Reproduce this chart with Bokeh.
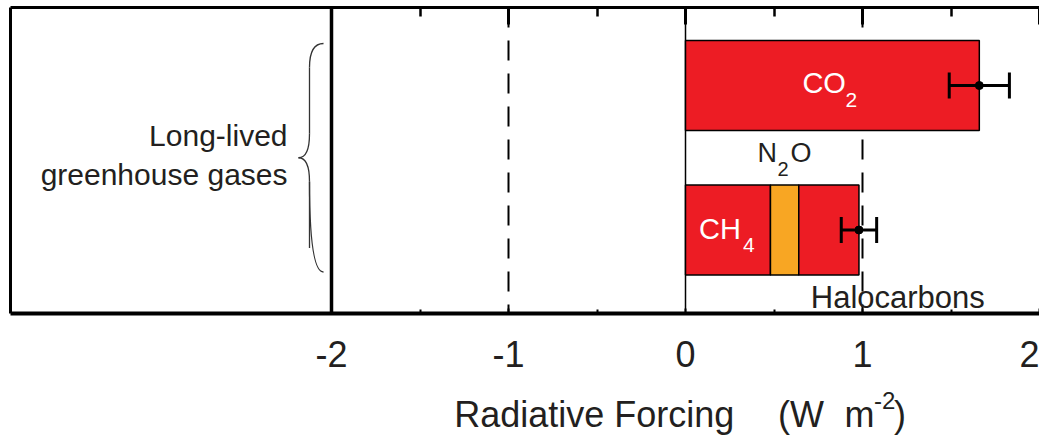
from bokeh.plotting import figure
from bokeh.layouts import column
from bokeh.models import Range1d, FixedTicker, LinearAxis, Span, Whisker, TeeHead, ColumnDataSource
from bokeh.core.properties import value
from bokeh.embed import file_html
from bokeh.resources import INLINE

# ---------------- data ----------------
rows = [2, 1]                       # CO2 row, CH4+N2O+Halocarbons row
co2 = 1.66
ch4 = 0.48
n2o = 0.16
halocarbons = 0.34
err_low = [1.49, 0.88]
err_high = [1.83, 1.08]
tick_values = [-2, -1, 0, 1, 2]
tick_labels = ["-2", "-1", "0", "1", "2"]
minor_values = [-1.5, -0.5, 0.5, 1.5]
group_label = "Long-lived\ngreenhouse gases"
title_parts = ["Radiative Forcing", "(W", "m", "-2", ")"]

# ---------------- layout ----------------
W = 1039
H_MAIN, H_TITLE = 385, 55
L_PX, R_PX, T_PX, B_PX = 10, 1039, 7, 313
XM2_PX = 331
x_end = 2.0
scale = (R_PX - XM2_PX) / (x_end + 2)
x_start = -2 - (XM2_PX - L_PX) / scale
y_start, y_end = 0.422, 2.54
yscale = (B_PX - T_PX) / (y_end - y_start)
bar_h = 90 / yscale

def xd(px):
    return x_start + (px - L_PX) / scale

def sh(fs):
    # baseline correction for text glyphs (pixels)
    return 0.4 * fs

FONT = "Liberation Sans"
TXT = "#231f20"
RED = "#ED1C24"
ORANGE = "#F8A623"

p = figure(width=W, height=H_MAIN, x_range=Range1d(x_start, x_end), y_range=Range1d(y_start, y_end),
           output_backend="svg", toolbar_location=None,
           min_border_left=L_PX, min_border_right=0, min_border_top=T_PX, min_border_bottom=H_MAIN - B_PX)
p.outline_line_color = None
p.grid.visible = False
p.background_fill_color = "white"
p.border_fill_color = "white"

xa = p.xaxis[0]
xa.ticker = FixedTicker(ticks=tick_values, minor_ticks=minor_values)
xa.major_label_overrides = {v: t for v, t in zip(tick_values, tick_labels)}
xa.major_tick_in = 5
xa.major_tick_out = 0
xa.minor_tick_in = 4
xa.minor_tick_out = 0
xa.axis_line_width = 4
xa.major_tick_line_width = 2
xa.minor_tick_line_width = 2
xa.major_label_text_font_size = "36px"
xa.major_label_text_font = FONT
xa.major_label_text_color = TXT
xa.major_label_standoff = 27

top = LinearAxis(ticker=FixedTicker(ticks=tick_values, minor_ticks=minor_values),
                 major_tick_in=17, major_tick_out=0, minor_tick_in=9, minor_tick_out=0,
                 axis_line_width=3, major_tick_line_width=3, minor_tick_line_width=2.5,
                 major_label_overrides={v: "" for v in tick_values},
                 major_label_text_font_size="2px", major_label_standoff=0)
p.add_layout(top, "above")

ya = p.yaxis[0]
ya.ticker = FixedTicker(ticks=[])
ya.major_tick_in = 0
ya.major_tick_out = 0
ya.minor_tick_in = 0
ya.minor_tick_out = 0
ya.axis_line_width = 3
ya.major_label_text_font_size = "2px"
ya.major_label_standoff = 0

for loc in (-1, 1):
    p.add_layout(Span(location=loc, dimension="height", line_color="black", line_width=2,
                      line_dash="20 13", level="underlay"))
p.add_layout(Span(location=-2, dimension="height", line_color="black", line_width=3.5))
p.add_layout(Span(location=0, dimension="height", line_color="black", line_width=1.5, level="underlay"))

# ---------------- bars ----------------
seg_left = [0, 0, ch4, ch4 + n2o]
seg_right = [co2, ch4, ch4 + n2o, ch4 + n2o + halocarbons]
seg_y = [rows[0], rows[1], rows[1], rows[1]]
seg_color = [RED, RED, ORANGE, RED]
p.hbar(y=seg_y, left=seg_left, right=seg_right, height=bar_h, fill_color=seg_color,
       line_color="black", line_width=1.5)

totals = [co2, ch4 + n2o + halocarbons]
src_err = ColumnDataSource(dict(y=rows, lower=err_low, upper=err_high))
wh = Whisker(base="y", lower="lower", upper="upper", dimension="width", source=src_err,
             line_width=3, line_color="black", level="annotation",
             upper_head=TeeHead(size=26, line_width=3, line_color="black"),
             lower_head=TeeHead(size=26, line_width=3, line_color="black"))
p.add_layout(wh)
p.scatter(x=totals, y=rows, size=8, color="black")

# ---------------- labels inside / around bars ----------------
def txt(fig, x, y, t, fs, color, xo=0, yo=0, align="left"):
    fig.text(x=x, y=y, text=t, x_offset=xo, y_offset=yo, text_font=value(FONT),
             text_font_size=f"{fs}px", text_color=color, text_align=align,
             text_baseline="alphabetic")

co2_mid = co2 / 2
ch4_mid = ch4 / 2
n2o_mid = ch4 + n2o / 2
halo_left = ch4 + n2o
txt(p, [co2_mid], [rows[0]], ["CO"], 29, "white", -30, 9 - sh(29))
txt(p, [co2_mid], [rows[0]], ["2"], 21, "white", 13, 23 - sh(21))
txt(p, [ch4_mid], [rows[1]], ["CH"], 29, "white", -29, 10.5 - sh(29))
txt(p, [ch4_mid], [rows[1]], ["4"], 21, "white", 15, 23.5 - sh(21))
top_ch = rows[1] + bar_h / 2
txt(p, [n2o_mid, n2o_mid], [top_ch, top_ch], ["N", "O"], 27, TXT, [-27, 6], -21 - sh(27))
txt(p, [n2o_mid], [top_ch], ["2"], 20, TXT, -7, -8 - sh(20))
bot_ch = rows[1] - bar_h / 2
txt(p, [halo_left], [bot_ch], ["Halocarbons"], 31, TXT, 12, 35 - sh(31))

# ---------------- brace and group label ----------------
inset = 3 / yscale
yt = rows[0] + bar_h / 2 - inset
yb = rows[1] - bar_h / 2 + inset
ym = (yt + yb) / 2
xt, xm, xr = xd(298), xd(309), xd(323)
dd = 24 / yscale
p.quadratic(x0=[xr, xm, xm, xt], y0=[yt, ym + dd, ym - dd, ym],
            x1=[xm, xt, xr, xm], y1=[yt - dd, ym, yb, ym - dd],
            cx=[xm, xm, xm, xm], cy=[yt, ym, yb, ym],
            line_color="#333333", line_width=1.3)
p.segment(x0=[xm, xm], y0=[yt - dd, ym - dd], x1=[xm, xm], y1=[ym + dd, yb + dd],
          line_color="#333333", line_width=1.3)

lines = group_label.split("\n")
txt(p, [xd(287), xd(287)], [ym, ym], lines, 30, TXT, 0, [-10 - sh(30), 29 - sh(30)], align="right")

# ---------------- axis title (separate strip below) ----------------
t = figure(width=W, height=H_TITLE, x_range=Range1d(0, W), y_range=Range1d(H_TITLE, 0),
           output_backend="svg", toolbar_location=None, x_axis_location=None, y_axis_location=None,
           min_border_left=0, min_border_right=0, min_border_top=0, min_border_bottom=0)
t.outline_line_color = None
t.grid.visible = False
t.background_fill_color = "white"
t.border_fill_color = "white"
base = 428 - H_MAIN
txt(t, [448], [base], [title_parts[0]], 36, TXT, 0, -sh(36))
txt(t, [775], [base], [title_parts[1]], 36, TXT, 0, -sh(36))
txt(t, [842], [base], [title_parts[2]], 36, TXT, 0, -sh(36))
txt(t, [872], [410 - H_MAIN], [title_parts[3]], 24, TXT, 0, -sh(24))
txt(t, [892], [base], [title_parts[4]], 36, TXT, 0, -sh(36))

layout = column(p, t, spacing=0)
open("out.html", "w").write(file_html(layout, INLINE))
